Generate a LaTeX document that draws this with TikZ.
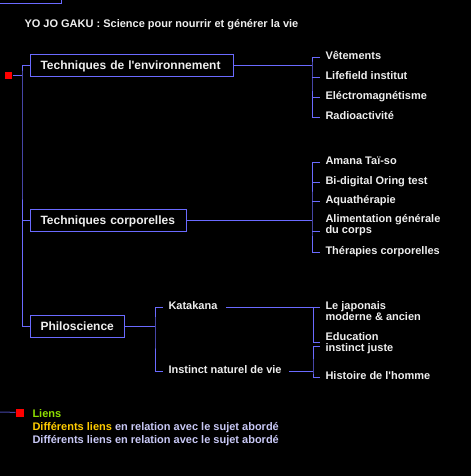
\documentclass[tikz,border=0pt]{standalone}
\usepackage{fontspec}
\setmainfont{Liberation Sans}
\definecolor{lien}{HTML}{6A6AFF}
\definecolor{texte}{HTML}{EEEEEE}
\definecolor{vert}{HTML}{8FE000}
\definecolor{or}{HTML}{FFCC00}
\definecolor{lavande}{HTML}{C8C8F5}
\begin{document}
\begin{tikzpicture}[x=1pt,y=-1pt,line width=1pt,
  font=\fontsize{11}{13}\selectfont\bfseries,
  boite/.style={draw=lien,text=texte,anchor=west,minimum height=22pt,
    inner xsep=10pt,align=left,text height=9pt,text depth=0.4pt,
    font=\fontsize{12}{14}\selectfont\bfseries},
  item/.style={text=texte,anchor=west,inner xsep=5pt,inner ysep=0pt,
    text height=8pt,text depth=4pt},
  carre/.style={fill=red,minimum size=7pt,inner sep=0pt},
  trait/.style={draw=lien}]
  \fill[black] (0,0) rectangle (471,476);
  \useasboundingbox (0,0) rectangle (471,476);
  \draw[trait] (0,4) -| (61,0);
  \node[anchor=base west,text=texte,inner sep=0pt] (titre) at (24,28)
    {YO JO GAKU : Science pour nourrir et générer la vie};

  \node[boite,text width=183pt] (env) at (30,65.5) {Techniques de l\textquotesingle environnement};
  \node[boite,text width=136pt] (corps) at (30,220) {Techniques corporelles};
  \node[boite,text width=74pt] (philo) at (30,326) {Philoscience};
  \node[carre] (racine) at (8.5,75.5) {};
  \coordinate (tronc) at (22,75.5);
  \draw[trait] (racine) -- (tronc);
  \draw[trait] (env.west) -| (tronc) |- (philo.west);
  \draw[trait] (tronc |- corps.west) -- (corps.west);

  \node[item] (vet) at (320,57.5) {Vêtements};
  \node[item] (life) at (320,77.5) {Lifefield institut};
  \node[item] (elec) at (320,97.5) {Eléctromagnétisme};
  \node[item] (radio) at (320,117.5) {Radioactivité};
  \coordinate (b1) at (312,65.5);
  \draw[trait] (env.east) -- (b1);
  \draw[trait] (vet.west) -| (b1) |- (radio.west);
  \foreach \n in {life,elec}
    \draw[trait] (b1 |- \n.west) -- (\n.west);

  \node[item] (amana) at (320,162) {Amana Taï-so};
  \node[item] (oring) at (320,182) {Bi-digital Oring test};
  \node[item] (aqua) at (320,201) {Aquathérapie};
  \node[item] (alim) at (320,220) {Alimentation générale};
  \node[item] (alimb) at (320,231) {du corps};
  \node[item] (thera) at (320,252) {Thérapies corporelles};
  \coordinate (b2) at (312,220);
  \draw[trait] (corps.east) -- (b2);
  \draw[trait] (amana.west) -| (b2) |- (thera.west);
  \foreach \n in {oring,aqua,alimb}
    \draw[trait] (b2 |- \n.west) -- (\n.west);

  \node[item] (kata) at (163,307) {Katakana};
  \node[item] (instinct) at (163,371) {Instinct naturel de vie};
  \coordinate (b3) at (155,326);
  \draw[trait] (philo.east) -- (b3);
  \draw[trait] (kata.west) -| (b3) |- (instinct.west);

  \node[item] (japon) at (320,307) {Le japonais};
  \node[item] (japonb) at (320,318) {moderne \& ancien};
  \node[item] (edu) at (320,338) {Education};
  \node[item] (juste) at (320,349) {instinct juste};
  \node[item] (histoire) at (320,377) {Histoire de l\textquotesingle homme};
  \coordinate (b4) at (313,307);
  \coordinate (b5) at (313,371);
  \draw[trait] ([xshift=3pt]kata.east) -- (japon.west);
  \draw[trait] (b4) |- ([yshift=-4pt]edu.west);
  \draw[trait] ([xshift=2pt]instinct.east) -- (b5);
  \draw[trait] ([yshift=3pt]juste.west) -| (b5) |- (histoire.west);

  \coordinate (bord) at (0,412);
  \node[carre,minimum size=8pt] (legcarre) at (20,412.5) {};
  \draw[trait,draw=lien!65!black] (bord) -- (legcarre);
  \node[item,text=vert,inner xsep=0pt] (leg1) at (32,415) {Liens};
  \node[item,text=lavande,inner xsep=0pt] (leg2) at (32,428)
    {\textcolor{or}{Différents liens} en relation avec le sujet abordé};
  \node[item,text=lavande,inner xsep=0pt] (leg3) at (32,441)
    {Différents liens en relation avec le sujet abordé};
\end{tikzpicture}
\end{document}
